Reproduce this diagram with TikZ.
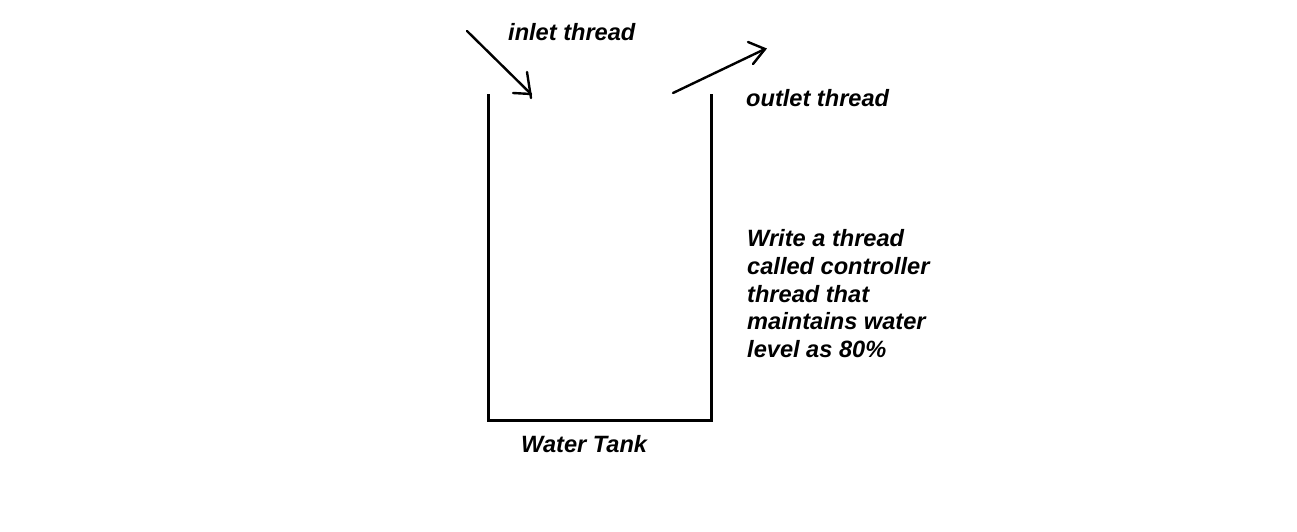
\documentclass[tikz,border=0pt]{standalone}
\usepackage{fontspec}
\setmainfont{Liberation Sans}
\begin{document}
\begin{tikzpicture}[x=1pt,y=-1pt,
  lbl/.style={inner sep=0pt,anchor=base west,font=\fontsize{23.6}{27.75}\selectfont\bfseries\itshape},
  wall/.style={line width=3pt,line cap=rect},
  arr/.style={line width=2.4pt,line cap=round}]
\useasboundingbox[fill=white] (0,0) rectangle (1297,531);
% tank
\coordinate (tl) at (488,95);
\coordinate (bl) at (488,420);
\coordinate (br) at (711,420);
\coordinate (tr) at (711,95);
\draw[wall] (tl) -- (bl) -- (br) -- (tr);
% inlet arrow
\coordinate (is) at (467,31);
\coordinate (it) at (531,94);
\coordinate (ib1) at (513,93);
\coordinate (ib2) at (527,72);
\coordinate (ib3) at (531,98);
\draw[arr] (is) -- (it);
\draw[arr] (ib1) -- (it);
\draw[arr] (ib2) -- (ib3);
% outlet arrow
\coordinate (os) at (673,93);
\coordinate (ot) at (765,49);
\coordinate (ob1) at (748,42);
\coordinate (ob2) at (753,64);
\draw[arr] (os) -- (ot);
\draw[arr] (ob1) -- (ot) -- (ob2);
% labels
\node[lbl] (inlet) at (508,40.7) {inlet thread};
\node[lbl] (outlet) at (746,106.7) {outlet thread};
\node[lbl] (tank) at (521,452) {Water Tank};
\node[lbl,align=left] (note) at (747,357.7) {Write a thread\\called controller\\thread that\\maintains water\\level as 80\%};
\end{tikzpicture}
\end{document}
